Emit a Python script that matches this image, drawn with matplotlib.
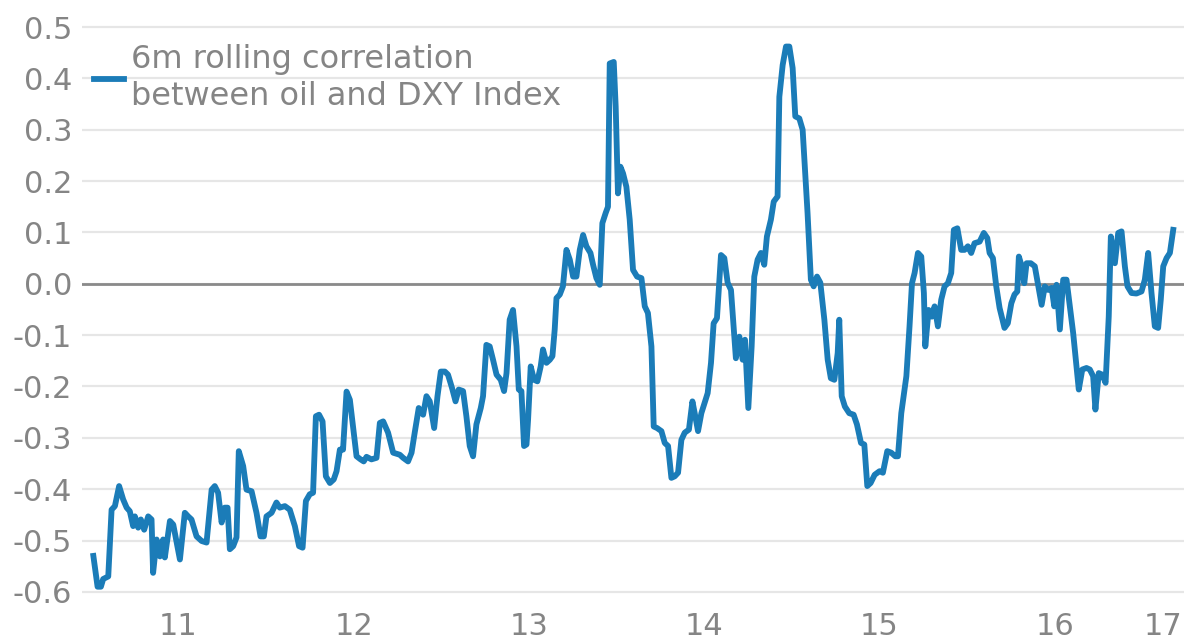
import matplotlib
matplotlib.use("Agg")
import matplotlib.pyplot as plt

# 6m rolling correlation (x = decimal year)
dates = [
    2011.014, 2011.038, 2011.057, 2011.070, 2011.099, 2011.118, 2011.137, 2011.161, 2011.184, 2011.204,
    2011.222, 2011.241, 2011.251, 2011.270, 2011.285, 2011.304, 2011.327, 2011.346, 2011.355, 2011.375,
    2011.394, 2011.412, 2011.422, 2011.451, 2011.470, 2011.508, 2011.536, 2011.555, 2011.574, 2011.603,
    2011.632, 2011.660, 2011.689, 2011.707, 2011.726, 2011.746, 2011.764, 2011.780, 2011.793, 2011.812,
    2011.831, 2011.844, 2011.869, 2011.888, 2011.917, 2011.945, 2011.968, 2011.987, 2012.002, 2012.031,
    2012.059, 2012.078, 2012.107, 2012.135, 2012.164, 2012.188, 2012.208, 2012.227, 2012.249, 2012.268,
    2012.284, 2012.302, 2012.322, 2012.341, 2012.364, 2012.386, 2012.402, 2012.421, 2012.439, 2012.459,
    2012.478, 2012.496, 2012.516, 2012.539, 2012.557, 2012.573, 2012.601, 2012.630, 2012.649, 2012.668,
    2012.696, 2012.725, 2012.763, 2012.782, 2012.810, 2012.830, 2012.848, 2012.871, 2012.896, 2012.915,
    2012.934, 2012.959, 2012.978, 2012.997, 2013.020, 2013.038, 2013.061, 2013.081, 2013.099, 2013.124,
    2013.143, 2013.162, 2013.181, 2013.200, 2013.225, 2013.238, 2013.257, 2013.276, 2013.295, 2013.315,
    2013.339, 2013.358, 2013.372, 2013.390, 2013.409, 2013.429, 2013.442, 2013.457, 2013.472, 2013.486,
    2013.495, 2013.510, 2013.529, 2013.548, 2013.567, 2013.580, 2013.600, 2013.619, 2013.634, 2013.647,
    2013.657, 2013.676, 2013.694, 2013.714, 2013.733, 2013.752, 2013.771, 2013.790, 2013.809, 2013.828,
    2013.851, 2013.866, 2013.885, 2013.904, 2013.919, 2013.938, 2013.951, 2013.961, 2013.984, 2013.995,
    2014.008, 2014.022, 2014.037, 2014.056, 2014.075, 2014.094, 2014.117, 2014.142, 2014.161, 2014.179,
    2014.199, 2014.212, 2014.231, 2014.256, 2014.275, 2014.294, 2014.313, 2014.332, 2014.351, 2014.370,
    2014.389, 2014.413, 2014.433, 2014.446, 2014.465, 2014.484, 2014.520, 2014.539, 2014.554, 2014.573,
    2014.587, 2014.596, 2014.615, 2014.634, 2014.653, 2014.681, 2014.701, 2014.720, 2014.733, 2014.752,
    2014.771, 2014.786, 2014.805, 2014.824, 2014.843, 2014.858, 2014.881, 2014.897, 2014.919, 2014.929,
    2014.948, 2014.967, 2014.986, 2015.005, 2015.020, 2015.043, 2015.062, 2015.090, 2015.109, 2015.125,
    2015.144, 2015.163, 2015.186, 2015.205, 2015.223, 2015.243, 2015.262, 2015.271, 2015.285, 2015.303,
    2015.328, 2015.353, 2015.372, 2015.395, 2015.414, 2015.431, 2015.450, 2015.473, 2015.501, 2015.520,
    2015.545, 2015.568, 2015.591, 2015.606, 2015.625, 2015.654, 2015.672, 2015.686, 2015.701, 2015.720,
    2015.739, 2015.754, 2015.762, 2015.781, 2015.800, 2015.815, 2015.834, 2015.853, 2015.872, 2015.891,
    2015.910, 2015.925, 2015.945, 2015.967, 2015.986, 2016.005, 2016.024, 2016.043, 2016.072, 2016.096,
    2016.116, 2016.129, 2016.148, 2016.167, 2016.186, 2016.214, 2016.233, 2016.253, 2016.271, 2016.287,
    2016.296, 2016.310, 2016.327, 2016.340, 2016.364, 2016.387, 2016.407, 2016.426, 2016.444, 2016.464,
    2016.483, 2016.498, 2016.511, 2016.530, 2016.549, 2016.568, 2016.587, 2016.606, 2016.625, 2016.638,
    2016.658, 2016.682, 2016.701, 2016.720, 2016.733, 2016.752, 2016.772, 2016.791, 2016.809, 2016.821,
    2016.844, 2016.863, 2016.882, 2016.901, 2016.916, 2016.939, 2016.967, 2016.996, 2017.015, 2017.034,
    2017.053, 2017.072, 2017.091, 2017.106, 2017.120, 2017.139, 2017.158, 2017.177,
]
corr = [
    -0.530, -0.590, -0.590, -0.575, -0.570, -0.440, -0.433, -0.394, -0.420, -0.436,
    -0.443, -0.472, -0.453, -0.475, -0.459, -0.479, -0.453, -0.459, -0.563, -0.498,
    -0.531, -0.498, -0.533, -0.462, -0.469, -0.537, -0.446, -0.453, -0.459, -0.492,
    -0.501, -0.504, -0.401, -0.394, -0.407, -0.465, -0.436, -0.436, -0.517, -0.511,
    -0.494, -0.326, -0.355, -0.401, -0.404, -0.446, -0.492, -0.492, -0.453, -0.446,
    -0.426, -0.436, -0.433, -0.440, -0.472, -0.511, -0.514, -0.423, -0.410, -0.407,
    -0.258, -0.255, -0.268, -0.375, -0.388, -0.381, -0.365, -0.323, -0.323, -0.210,
    -0.226, -0.278, -0.336, -0.342, -0.346, -0.337, -0.342, -0.339, -0.271, -0.268,
    -0.290, -0.329, -0.333, -0.339, -0.346, -0.329, -0.290, -0.242, -0.255, -0.219,
    -0.229, -0.281, -0.219, -0.171, -0.171, -0.177, -0.203, -0.229, -0.206, -0.209,
    -0.258, -0.316, -0.336, -0.274, -0.242, -0.219, -0.119, -0.122, -0.148, -0.177,
    -0.187, -0.209, -0.174, -0.070, -0.051, -0.122, -0.206, -0.209, -0.316, -0.313,
    -0.265, -0.161, -0.187, -0.190, -0.161, -0.128, -0.154, -0.148, -0.141, -0.089,
    -0.028, -0.021, -0.005, 0.066, 0.047, 0.014, 0.014, 0.066, 0.095, 0.073,
    0.060, 0.037, 0.011, -0.002, 0.118, 0.138, 0.150, 0.429, 0.432, 0.345,
    0.176, 0.228, 0.215, 0.189, 0.125, 0.027, 0.014, 0.011, -0.044, -0.057,
    -0.122, -0.278, -0.281, -0.287, -0.310, -0.316, -0.378, -0.375, -0.368, -0.304,
    -0.290, -0.284, -0.229, -0.252, -0.287, -0.252, -0.213, -0.154, -0.077, -0.067,
    0.008, 0.056, 0.050, 0.002, -0.012, -0.145, -0.103, -0.148, -0.109, -0.242,
    -0.122, 0.014, 0.047, 0.060, 0.037, 0.092, 0.125, 0.160, 0.170, 0.364,
    0.426, 0.462, 0.462, 0.420, 0.326, 0.322, 0.300, 0.138, 0.008, -0.005,
    0.014, 0.002, -0.070, -0.148, -0.184, -0.187, -0.135, -0.070, -0.219, -0.239,
    -0.252, -0.255, -0.274, -0.310, -0.313, -0.394, -0.388, -0.372, -0.365, -0.368,
    -0.326, -0.329, -0.336, -0.336, -0.252, -0.180, -0.083, 0.001, 0.021, 0.060,
    0.053, -0.018, -0.122, -0.051, -0.064, -0.044, -0.083, -0.031, -0.005, 0.001,
    0.021, 0.105, 0.108, 0.066, 0.066, 0.073, 0.060, 0.079, 0.082, 0.099,
    0.089, 0.060, 0.050, -0.005, -0.047, -0.086, -0.077, -0.038, -0.021, -0.015,
    0.053, 0.037, 0.001, 0.040, 0.040, 0.034, -0.005, -0.041, -0.005, -0.012,
    -0.008, -0.044, -0.002, -0.089, 0.008, 0.008, -0.044, -0.096, -0.161, -0.206,
    -0.167, -0.164, -0.167, -0.180, -0.245, -0.174, -0.177, -0.193, -0.064, 0.092,
    0.040, 0.099, 0.102, 0.034, -0.005, -0.018, -0.019, -0.015, 0.008, 0.060,
    -0.018, -0.083, -0.086, -0.031, 0.034, 0.050, 0.060, 0.105,
]

xtick_pos = [2011.5, 2012.5, 2013.5, 2014.5, 2015.5, 2016.5, 2017.12]
xtick_labels = ['11', '12', '13', '14', '15', '16', '17']
ytick_vals = [0.5, 0.4, 0.3, 0.2, 0.1, 0.0, -0.1, -0.2, -0.3, -0.4, -0.5, -0.6]
ytick_labels = ['0.5', '0.4', '0.3', '0.2', '0.1', '0.0', '-0.1', '-0.2', '-0.3', '-0.4', '-0.5', '-0.6']
label = '6m rolling correlation\nbetween oil and DXY Index'

line_color = '#1b7cb8'
text_color = '#858585'

fig = plt.figure(figsize=(11.88, 6.44), dpi=100)
ax = fig.add_axes([0.069, 0.073, 0.928, 0.893])

ax.plot(dates, corr, color=line_color, linewidth=4.2, label=label, solid_joinstyle='round', zorder=3)
ax.axhline(0, color='#8a8a8a', linewidth=2.0, zorder=2)

ax.set_xlim(2010.949, 2017.241)
ax.set_ylim(-0.61, 0.51)
ax.set_yticks(ytick_vals)
ax.set_yticklabels(ytick_labels)
ax.set_xticks(xtick_pos)
ax.set_xticklabels(xtick_labels)
ax.grid(axis='y', color='#e6e6e6', linewidth=1.6, zorder=1)
ax.tick_params(axis='both', length=0, labelsize=22, colors=text_color)
ax.tick_params(axis='y', pad=7)
ax.tick_params(axis='x', pad=11)
for s in ax.spines.values():
    s.set_visible(False)

leg = ax.legend(loc='upper left', bbox_to_anchor=(0.0109, 0.961), frameon=False,
                fontsize=23, handlelength=0.95, handletextpad=0.2,
                borderpad=0, borderaxespad=0)
for t in leg.get_texts():
    t.set_color(text_color)
    t.set_linespacing(1.25)

fig.savefig('out.png', dpi=100)
